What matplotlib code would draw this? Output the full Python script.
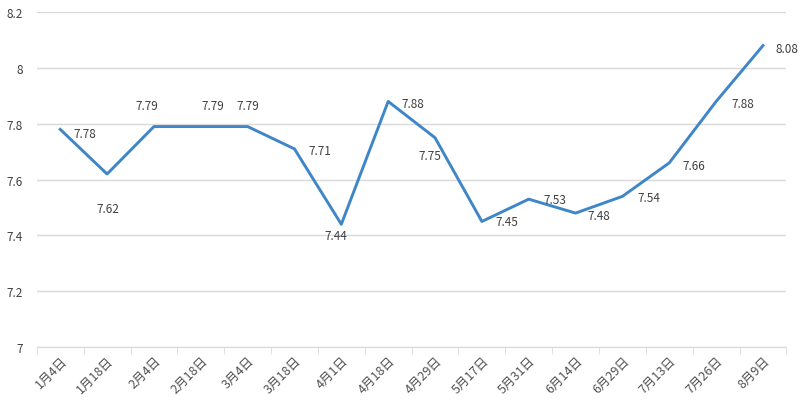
import matplotlib.pyplot as plt
from matplotlib.ticker import MultipleLocator, FixedLocator, FuncFormatter

plt.rcParams['font.family'] = ['Noto Sans CJK SC', 'DejaVu Sans']

dates = ['1月4日', '1月18日', '2月4日', '2月18日', '3月4日', '3月18日', '4月1日', '4月18日',
         '4月29日', '5月17日', '5月31日', '6月14日', '6月29日', '7月13日', '7月26日', '8月9日']
values = [7.78, 7.62, 7.79, 7.79, 7.79, 7.71, 7.44, 7.88,
          7.75, 7.45, 7.53, 7.48, 7.54, 7.66, 7.88, 8.08]
# label offsets in points from each point (how Excel happened to place them)
label_dx = [18, 0.5, -5, 9, 0, 18, -4, 18, -3.5, 18, 19, 17, 19, 18, 19, 17]
label_dy = [-3, -24.5, 15, 15, 15, -1.5, -8, -1.5, -13, 0, 0, -1.5, -1, -2, -1.5, -2]

text_color = '#404040'
grid_color = '#d9d9d9'

fig = plt.figure(figsize=(8, 4.1), dpi=100)
ax = fig.add_axes([0.046, 0.151, 0.937, 0.817])

x = list(range(len(dates)))
ax.plot(x, values, color='#3f86c8', lw=2.1)

for i, v in enumerate(values):
    ax.annotate(f'{v:.2f}', (i, v), xytext=(label_dx[i], label_dy[i]), textcoords='offset points',
                ha='center', va='center', fontsize=8.5, color=text_color)

ax.set_xlim(-0.5, len(dates) - 0.5)
ax.set_ylim(7, 8.2)
ax.yaxis.set_major_locator(MultipleLocator(0.2))
ax.yaxis.set_major_formatter(FuncFormatter(lambda v, p: f'{v:.1f}'.rstrip('0').rstrip('.')))
ax.grid(axis='y', color=grid_color, lw=1)
ax.set_axisbelow(True)

ax.set_xticks(x)
ax.set_xticklabels(dates, rotation=45, ha='right', rotation_mode='anchor')
ax.xaxis.set_minor_locator(FixedLocator([i - 0.5 for i in range(len(dates) + 1)]))
ax.tick_params(axis='x', which='major', length=0, pad=5, labelsize=9, labelcolor='#505050')
ax.tick_params(axis='x', which='minor', length=5, color=grid_color)
ax.tick_params(axis='y', length=0, pad=10, labelsize=8.5, labelcolor=text_color)

for s in ['top', 'right', 'left']:
    ax.spines[s].set_visible(False)
ax.spines['bottom'].set_color(grid_color)

fig.savefig('out.png', dpi=100)
